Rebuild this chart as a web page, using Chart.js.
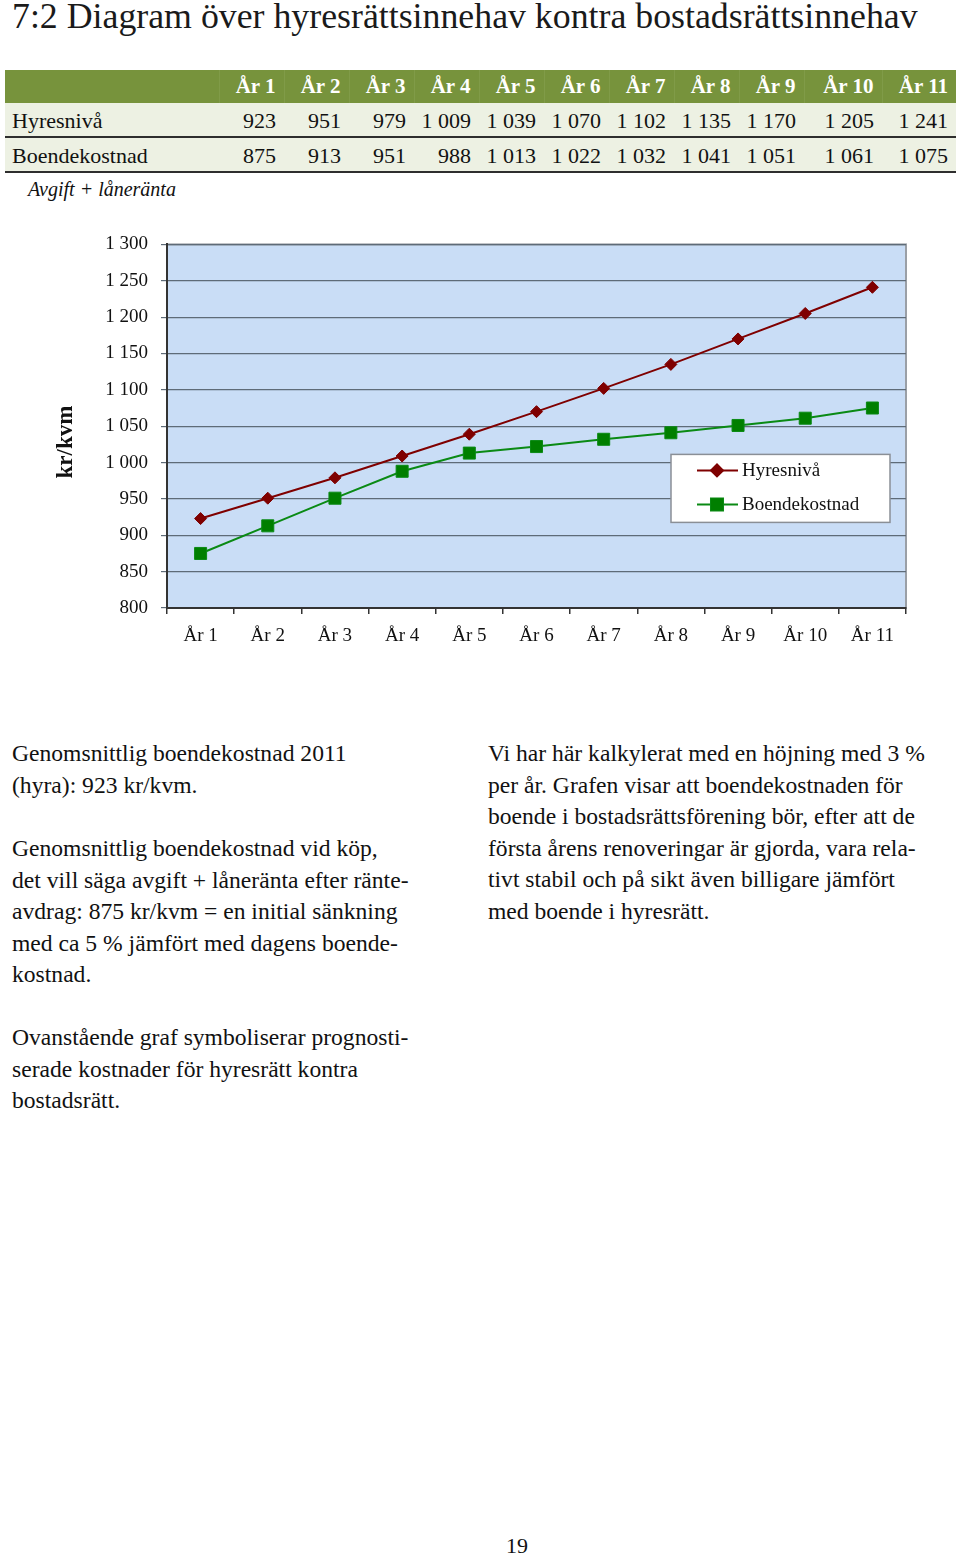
<!DOCTYPE html>
<html lang="sv">
<head>
<meta charset="utf-8">
<title>7:2 Diagram</title>
<script src="https://cdn.jsdelivr.net/npm/chart.js@4.4.1/dist/chart.umd.min.js"></script>
<style>
  * { font-family: "Liberation Serif", "Times New Roman", serif; }
  body { margin: 0; width: 960px; height: 1559px; position: relative; background: #fff;
         color: #111; overflow: hidden; }
  .abs { position: absolute; }
  #title { left: 12px; top: -5px; font-size: 35.8px; white-space: nowrap; color: #1a1a1a; }
  #tbl { left: 5px; top: 70px; border-collapse: collapse; table-layout: fixed; width: 951px; }
  #tbl th { background: #77933c; color: #fff; font-weight: bold; font-size: 21px; height: 33px;
            text-align: right; padding: 0 8px 0 0; border-left: 1px solid #809b48; }
  #tbl th:first-child { border-left: none; }
  #tbl td { background: #edf1e3; font-size: 22px; height: 31px; text-align: right; padding: 2px 8px 0 0;
            border-bottom: 2px solid #2e2e2e; }
  #tbl td.lbl { text-align: left; padding-left: 7px; }
  #note { left: 28px; top: 178px; font-size: 20px; font-style: italic; }
  #chartBox { left: 0; top: 220px; width: 960px; height: 450px; }
  .txt { font-size: 23.6px; line-height: 31.6px; white-space: nowrap; }
  #pg { left: 0; width: 1034px; top: 1533px; text-align: center; font-size: 22px; }
</style>
</head>
<body>

<div id="title" class="abs">7:2 Diagram över hyresrättsinnehav kontra bostadsrättsinnehav</div>

<table id="tbl" class="abs">
  <colgroup id="cols"></colgroup>
  <thead><tr id="headRow"></tr></thead>
  <tbody id="tblBody"></tbody>
</table>
<div id="note" class="abs">Avgift + låneränta</div>

<div id="chartBox" class="abs"><canvas id="lineChart"></canvas></div>

<div class="abs txt" style="left:12px; top:738px;">Genomsnittlig boendekostnad 2011<br>(hyra): 923 kr/kvm.</div>
<div class="abs txt" style="left:12px; top:833px;">Genomsnittlig boendekostnad vid köp,<br>det vill säga avgift + låneränta efter ränte-<br>avdrag: 875 kr/kvm = en initial sänkning<br>med ca 5 % jämfört med dagens boende-<br>kostnad.</div>
<div class="abs txt" style="left:12px; top:1022px;">Ovanstående graf symboliserar prognosti-<br>serade kostnader för hyresrätt kontra<br>bostadsrätt.</div>
<div class="abs txt" style="left:488px; top:738px;">Vi har här kalkylerat med en höjning med 3 %<br>per år. Grafen visar att boendekostnaden för<br>boende i bostadsrättsförening bör, efter att de<br>första årens renoveringar är gjorda, vara rela-<br>tivt stabil och på sikt även billigare jämfört<br>med boende i hyresrätt.</div>

<div id="pg" class="abs">19</div>

<script>
/******************************************************************
DATA
******************************************************************/

var years = ["År 1", "År 2", "År 3", "År 4", "År 5", "År 6", "År 7", "År 8", "År 9", "År 10", "År 11"];
var hyresniva = [923, 951, 979, 1009, 1039, 1070, 1102, 1135, 1170, 1205, 1241];
var boendekostnad = [875, 913, 951, 988, 1013, 1022, 1032, 1041, 1051, 1061, 1075];
var seriesNames = ["Hyresnivå", "Boendekostnad"];
var yTitle = "kr/kvm";

function fmt(n) {
  // 1009 -> "1 009"
  var s = String(n);
  return s.length > 3 ? s.slice(0, s.length - 3) + " " + s.slice(-3) : s;
}

/******************************************************************
TABLE
******************************************************************/

var colWidths = [214, 65, 65, 65, 65, 65, 65, 65, 65, 65, 78, 74];
var cols = document.getElementById("cols");
colWidths.forEach(function (w) {
  var c = document.createElement("col");
  c.style.width = w + "px";
  cols.appendChild(c);
});

var headRow = document.getElementById("headRow");
headRow.innerHTML = "<th></th>" + years.map(function (y) { return "<th>" + y + "</th>"; }).join("");

var body = document.getElementById("tblBody");
[hyresniva, boendekostnad].forEach(function (vals, i) {
  var tr = document.createElement("tr");
  tr.innerHTML = "<td class='lbl'>" + seriesNames[i] + "</td>" +
    vals.map(function (v) { return "<td>" + fmt(v) + "</td>"; }).join("");
  body.appendChild(tr);
});

/******************************************************************
CHART
******************************************************************/

var serif = "'Liberation Serif', 'Times New Roman', serif";

var plotBackground = {
  id: "plotBackground",
  beforeDraw: function (chart) {
    var a = chart.chartArea, ctx = chart.ctx;
    ctx.save();
    ctx.fillStyle = "#c9ddf6";
    ctx.fillRect(a.left, a.top, a.right - a.left, a.bottom - a.top);
    ctx.strokeStyle = "#9a9fa6";
    ctx.lineWidth = 2;
    ctx.strokeRect(a.left, a.top, a.right - a.left, a.bottom - a.top);
    ctx.restore();
  },
  afterDraw: function (chart) {
    var a = chart.chartArea, ctx = chart.ctx;
    ctx.save();
    // y axis title
    ctx.translate(66, 222);
    ctx.rotate(-Math.PI / 2);
    ctx.font = "bold 23px " + serif;
    ctx.fillStyle = "#111";
    ctx.textAlign = "center";
    ctx.textBaseline = "middle";
    ctx.fillText(yTitle, 0, 0);
    ctx.restore();

    // legend box
    var bx = a.right - 235, by = a.top + 210, bw = 219, bh = 68;
    ctx.save();
    ctx.fillStyle = "#fff";
    ctx.fillRect(bx, by, bw, bh);
    ctx.strokeStyle = "#8a8f96";
    ctx.lineWidth = 1.5;
    ctx.strokeRect(bx, by, bw, bh);
    chart.data.datasets.forEach(function (ds, i) {
      var cy = by + 16 + i * 34;
      ctx.strokeStyle = ds.borderColor;
      ctx.lineWidth = 2;
      ctx.beginPath();
      ctx.moveTo(bx + 26, cy);
      ctx.lineTo(bx + 67, cy);
      ctx.stroke();
      Chart.helpers.drawPoint(ctx, {
        pointStyle: ds.pointStyle, radius: ds.pointRadius, borderWidth: 1, rotation: 0
      }, bx + 46, cy);
      ctx.fillStyle = ds.backgroundColor;
      ctx.fill();
      ctx.fillStyle = "#111";
      ctx.font = "19px " + serif;
      ctx.textAlign = "left";
      ctx.textBaseline = "middle";
      ctx.fillText(ds.label, bx + 71, cy + 1);
    });
    ctx.restore();
  }
};

var chartHandle = new Chart(document.getElementById("lineChart").getContext("2d"), {
  type: "line",
  data: {
    labels: years,
    datasets: [{
      label: seriesNames[0],
      data: hyresniva,
      borderColor: "#7f0000",
      backgroundColor: "#7f0000",
      pointStyle: "rectRot",
      pointRadius: 6,
      pointBorderWidth: 1,
      borderWidth: 2
    }, {
      label: seriesNames[1],
      data: boendekostnad,
      borderColor: "#0a8a14",
      backgroundColor: "#007f00",
      pointStyle: "rect",
      pointRadius: 8.5,
      pointBorderWidth: 1,
      borderWidth: 2
    }]
  },
  options: {
    responsive: true,
    maintainAspectRatio: false,
    animation: false,
    layout: { padding: { left: 0, right: 54, top: 24, bottom: 0 } },
    plugins: { legend: { display: false }, tooltip: { enabled: false } },
    scales: {
      x: {
        type: "category",
        offset: true,
        grid: { offset: true, drawOnChartArea: false, drawTicks: true, tickLength: 6, color: "#333", lineWidth: 1.5 },
        border: { color: "#333", width: 2 },
        ticks: { color: "#111", padding: 11, font: { family: serif, size: 19 }, maxRotation: 0, autoSkip: false },
        afterFit: function (s) { s.height = 62; }
      },
      y: {
        min: 800,
        max: 1300,
        grid: { color: "#5e6b78", lineWidth: 1.2, tickLength: 6 },
        border: { color: "#333", width: 2 },
        ticks: {
          stepSize: 50,
          color: "#111",
          padding: 13,
          font: { family: serif, size: 19 },
          callback: function (v) { return fmt(v); }
        },
        afterFit: function (s) { s.width = 167; }
      }
    }
  },
  plugins: [plotBackground]
});
</script>
</body>
</html>
